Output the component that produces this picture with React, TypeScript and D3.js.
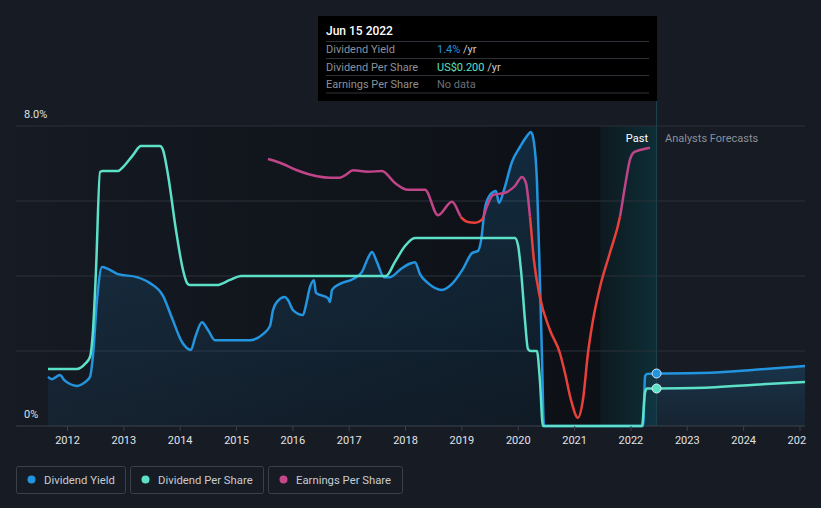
import React from "react";
import * as d3 from "d3";

// ---- Data (decimal years) ----
const yieldPast: [number, number][] = [
  [2011.654, 1.31], [2011.725, 1.25], [2011.867, 1.36], [2011.938, 1.23], [2012.044, 1.12],
  [2012.169, 1.07], [2012.311, 1.17], [2012.399, 1.31], [2012.453, 1.89], [2012.524, 3.36],
  [2012.612, 4.24], [2012.719, 4.19], [2012.896, 4.05], [2013.233, 3.97], [2013.464, 3.81],
  [2013.695, 3.47], [2013.855, 2.88], [2014.032, 2.24], [2014.192, 2.03], [2014.263, 2.35],
  [2014.387, 2.77], [2014.493, 2.56], [2014.618, 2.29], [2015.239, 2.29], [2015.47, 2.45],
  [2015.594, 2.67], [2015.647, 3.09], [2015.718, 3.31], [2015.86, 3.44], [2015.913, 3.36],
  [2016.002, 3.09], [2016.18, 2.96], [2016.233, 3.23], [2016.304, 3.71], [2016.375, 3.89],
  [2016.41, 3.55], [2016.623, 3.41], [2016.659, 3.31], [2016.694, 3.63], [2016.836, 3.79],
  [2017.067, 3.92], [2017.226, 4.11], [2017.333, 4.48], [2017.404, 4.64], [2017.493, 4.37],
  [2017.617, 3.97], [2017.724, 3.97], [2017.919, 4.19], [2018.06, 4.32], [2018.167, 4.37],
  [2018.256, 4.05], [2018.398, 3.81], [2018.646, 3.63], [2018.824, 3.79], [2019.019, 4.19],
  [2019.178, 4.61], [2019.285, 4.67], [2019.338, 4.93], [2019.409, 5.81], [2019.498, 6.16],
  [2019.604, 6.27], [2019.657, 5.95], [2019.746, 6.29], [2019.888, 7.04], [2020.03, 7.44],
  [2020.154, 7.73], [2020.225, 7.84], [2020.278, 7.57], [2020.331, 6.56], [2020.384, 3.89],
  [2020.42, 1.89], [2020.456, 0], [2022.215, 0], [2022.251, 1.33], [2022.286, 1.39],
  [2022.455, 1.4],
];
const yieldForecast: [number, number][] = [
  [2022.455, 1.4], [2023.4, 1.42], [2024.2, 1.5], [2025.089, 1.6],
];

const dpsPast: [number, number][] = [
  [2011.654, 0.304], [2012.169, 0.304], [2012.311, 0.331], [2012.399, 0.368], [2012.453, 0.512],
  [2012.506, 0.832], [2012.577, 1.355], [2012.63, 1.36], [2012.896, 1.36], [2012.985, 1.381],
  [2013.162, 1.445], [2013.304, 1.493], [2013.642, 1.493], [2013.695, 1.472], [2013.784, 1.339],
  [2013.925, 1.045], [2014.05, 0.832], [2014.121, 0.763], [2014.174, 0.752], [2014.653, 0.752],
  [2014.884, 0.779], [2015.079, 0.8], [2017.652, 0.8], [2017.812, 0.875], [2017.99, 0.96],
  [2018.167, 1.003], [2019.941, 1.003], [2019.995, 0.965], [2020.048, 0.832], [2020.119, 0.565],
  [2020.172, 0.411], [2020.225, 0.4], [2020.331, 0.4], [2020.384, 0.245], [2020.438, 0],
  [2022.197, 0], [2022.251, 0.181], [2022.286, 0.2], [2022.455, 0.2],
];
const dpsForecast: [number, number][] = [
  [2022.455, 0.2], [2023.4, 0.205], [2024.2, 0.22], [2025.089, 0.235],
];

const epsPast: [number, number][] = [
  [2015.558, 3.56], [2015.771, 3.51], [2016.073, 3.41], [2016.428, 3.33], [2016.659, 3.31],
  [2016.836, 3.31], [2016.942, 3.35], [2017.067, 3.41], [2017.333, 3.39], [2017.581, 3.4],
  [2017.812, 3.24], [2018.043, 3.15], [2018.345, 3.15], [2018.575, 2.81], [2018.824, 2.99],
  [2019.001, 2.77], [2019.107, 2.72], [2019.232, 2.71], [2019.356, 2.75], [2019.445, 2.93],
  [2019.551, 3.08], [2019.764, 3.11], [2019.941, 3.2], [2020.066, 3.32], [2020.136, 3.24],
  [2020.207, 2.8], [2020.278, 2.21], [2020.384, 1.72], [2020.562, 1.28], [2020.74, 0.97],
  [2020.828, 0.71], [2020.935, 0.35], [2021.059, 0.11], [2021.148, 0.35], [2021.237, 0.97],
  [2021.326, 1.41], [2021.45, 1.85], [2021.627, 2.31], [2021.805, 2.79], [2021.893, 3.19],
  [2021.982, 3.55], [2022.053, 3.65], [2022.159, 3.68], [2022.337, 3.71],
];
const epsRedBelow = 2.79;

const yearTicks = [2012, 2013, 2014, 2015, 2016, 2017, 2018, 2019, 2020, 2021, 2022, 2023, 2024, 2025];
const yieldGrid = [0, 2, 4, 6, 8];
const today = 2022.455;
const pastBandStart = 2021.455;

const legendItems = [
  { label: "Dividend Yield", color: "#2394df" },
  { label: "Dividend Per Share", color: "#5ce0c8" },
  { label: "Earnings Per Share", color: "#c4478a" },
];

const tooltipRows = [
  { label: "Dividend Yield", value: "1.4%", valueColor: "#2394df", suffix: " /yr" },
  { label: "Dividend Per Share", value: "US$0.200", valueColor: "#5ce0c8", suffix: " /yr" },
  { label: "Earnings Per Share", value: "No data", valueColor: "#6b7079", suffix: "" },
];

const W = 821;
const H = 508;
const L = 16, R = 805, T = 126, B = 426;

export default function App() {
  const x = d3.scaleLinear().domain([2011.086, 2025.089]).range([L, R]);
  const yY = d3.scaleLinear().domain([0, 8]).range([B, T]);
  const yD = d3.scaleLinear().domain([0, 1.6]).range([B, T]);
  const yE = d3.scaleLinear().domain([0, 4]).range([B, T]);

  const curve = d3.curveMonotoneX;
  const lineY = d3.line<[number, number]>().x(d => x(d[0])).y(d => yY(d[1])).curve(curve);
  const lineD = d3.line<[number, number]>().x(d => x(d[0])).y(d => yD(d[1])).curve(curve);
  const lineE = d3.line<[number, number]>().x(d => x(d[0])).y(d => yE(d[1])).curve(curve);
  const areaY = d3.area<[number, number]>().x(d => x(d[0])).y0(B).y1(d => yY(d[1])).curve(curve);

  const thrY = yE(epsRedBelow);
  const font = "Roboto, 'Noto Sans', sans-serif";

  return (
    <div style={{ width: W, height: H }}>
      <style>{`body{margin:0;background:#161b24;}`}</style>
      <svg width={W} height={H} style={{ display: "block", fontFamily: font }}>
        <defs>
          <linearGradient id="pastBg" x1="0" x2="1" y1="0" y2="0">
            <stop offset="0" stopColor="#151a23" />
            <stop offset="1" stopColor="#0c0f14" />
          </linearGradient>
          <linearGradient id="band" x1="0" x2="1" y1="0" y2="0">
            <stop offset="0" stopColor="rgb(20,170,190)" stopOpacity="0.06" />
            <stop offset="1" stopColor="rgb(20,170,190)" stopOpacity="0.2" />
          </linearGradient>
          <linearGradient id="areaFill" x1="0" x2="0" y1="0" y2="1">
            <stop offset="0" stopColor="#2394df" stopOpacity="0.2" />
            <stop offset="1" stopColor="#2394df" stopOpacity="0.07" />
          </linearGradient>
          <clipPath id="epsAbove"><rect x={0} y={0} width={W} height={thrY} /></clipPath>
          <clipPath id="epsBelow"><rect x={0} y={thrY} width={W} height={H - thrY} /></clipPath>
          <clipPath id="axisClip"><rect x={0} y={0} width={807} height={H} /></clipPath>
        </defs>

        <rect x={0} y={0} width={W} height={H} fill="#161b24" />
        {/* past background */}
        <rect x={L} y={T} width={x(today) - L} height={B - T} fill="url(#pastBg)" />
        {/* last-year band */}
        <rect x={x(pastBandStart)} y={T} width={x(today) - x(pastBandStart)} height={B - T} fill="url(#band)" />

        {/* grid */}
        {yieldGrid.map(v => (
          <line key={v} x1={L} x2={R} y1={yY(v)} y2={yY(v)} stroke={v === 0 ? "#3b4049" : "#2c313a"} strokeWidth={1} />
        ))}

        {/* area under yield */}
        <path d={areaY(yieldPast) || ""} fill="url(#areaFill)" />
        <path d={areaY(yieldForecast) || ""} fill="url(#areaFill)" />

        {/* today line */}
        <line x1={x(today)} x2={x(today)} y1={101} y2={B} stroke="#1c4450" strokeWidth={1} />

        {/* series */}
        <path d={lineY(yieldPast) || ""} fill="none" stroke="#2394df" strokeWidth={2.5} />
        <path d={lineY(yieldForecast) || ""} fill="none" stroke="#2394df" strokeWidth={2.5} />
        <path d={lineD(dpsPast) || ""} fill="none" stroke="#5ce0c8" strokeWidth={2.5} />
        <path d={lineD(dpsForecast) || ""} fill="none" stroke="#5ce0c8" strokeWidth={2.5} />
        <path d={lineE(epsPast) || ""} fill="none" stroke="#c04588" strokeWidth={2.5} clipPath="url(#epsAbove)" />
        <path d={lineE(epsPast) || ""} fill="none" stroke="#e8413c" strokeWidth={2.5} clipPath="url(#epsBelow)" />

        {/* dots at today */}
        <circle cx={x(today)} cy={yY(1.4)} r={4.5} fill="#2394df" stroke="#d8e6f0" strokeWidth={1} />
        <circle cx={x(today)} cy={yD(0.2)} r={4.5} fill="#5ce0c8" stroke="#d8f0ea" strokeWidth={1} />

        {/* y labels */}
        <text x={24} y={118} fontSize={11} fill="#dfe1e4">8.0%</text>
        <text x={24} y={418} fontSize={11} fill="#dfe1e4">0%</text>

        {/* past / forecast labels */}
        <text x={648} y={142} fontSize={11} fill="#ffffff" textAnchor="end">Past</text>
        <text x={665} y={142} fontSize={11} fill="#8b9099">Analysts Forecasts</text>

        {/* x axis */}
        <g clipPath="url(#axisClip)">
          {yearTicks.map(t => (
            <g key={t}>
              <line x1={x(t)} x2={x(t)} y1={B} y2={B + 5} stroke="#3b4049" />
              <text x={x(t)} y={444} fontSize={11} fill="#e2e4e7" textAnchor="middle">{t}</text>
            </g>
          ))}
        </g>

        {/* tooltip */}
        <rect x={318} y={16} width={339} height={85} fill="#000000" />
        <text x={326} y={35} fontSize={12} fill="#ffffff" fontWeight={500}>Jun 15 2022</text>
        {[41.5, 58.5, 75.5, 93].map((yy, i) => (
          <line key={i} x1={326} x2={649} y1={yy} y2={yy} stroke="#2e3238" strokeWidth={1} />
        ))}
        {tooltipRows.map((r, i) => (
          <g key={r.label}>
            <text x={326} y={53 + i * 17.5} fontSize={11} fill="#8b9099">{r.label}</text>
            <text x={437} y={53 + i * 17.5} fontSize={11}>
              <tspan fill={r.valueColor}>{r.value}</tspan>
              <tspan fill="#c9ccd1">{r.suffix}</tspan>
            </text>
          </g>
        ))}

        {/* legend */}
        {(() => {
          let cx = 16;
          const widths = [110, 134, 135];
          return legendItems.map((it, i) => {
            const bx = cx;
            cx += widths[i] + 4;
            return (
              <g key={it.label}>
                <rect x={bx + 0.5} y={466.5} width={widths[i] - 1} height={27} rx={2} fill="none" stroke="#3a3f48" />
                <circle cx={bx + 15.5} cy={479.5} r={4} fill={it.color} />
                <text x={bx + 28} y={483.5} fontSize={11.3} fill="#c8ccd2">{it.label}</text>
              </g>
            );
          });
        })()}
      </svg>
    </div>
  );
}
